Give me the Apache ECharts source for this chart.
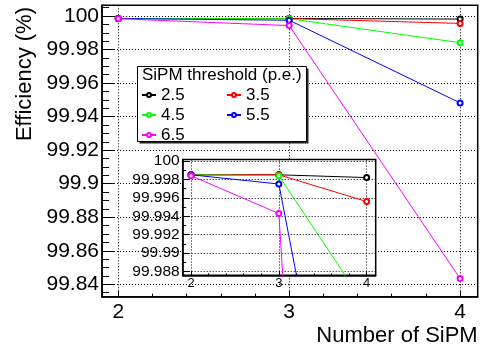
<!DOCTYPE html>
<html>
<head>
<meta charset="utf-8">
<script src="https://cdn.jsdelivr.net/npm/echarts@6/dist/echarts.min.js"></script>
<style>
html,body{margin:0;padding:0;background:#fff;}
#chart{width:485px;height:353px;}
</style>
</head>
<body>
<div id="chart"></div>
<script>
// ---------------- data ----------------
const xValues = [2, 3, 4];
const thresholdNames = ['2.5', '3.5', '4.5', '5.5', '6.5'];
const effTh25 = [99.9985, 99.9985, 99.9982];
const effTh35 = [99.9985, 99.9985, 99.9956];
const effTh45 = [99.9985, 99.9984, 99.9841];
const effTh55 = [99.9985, 99.9975, 99.9482];
const effTh65 = [99.9984, 99.9943, 99.8434];
const errTh25 = [0.00005, 0.00005, 0.0002];
const errTh35 = [0.00005, 0.00005, 0.00045];
const errTh45 = [0.00005, 0.00005, 0.0006];
const errTh55 = [0.00005, 0.0002, 0.0018];
const errTh65 = [0.00005, 0.00045, 0.0022];
const mainXTickLabels = ['2', '3', '4'];
const mainYTickLabels = ['99.84', '99.86', '99.88', '99.9', '99.92', '99.94', '99.96', '99.98', '100'];
const insetXTickLabels = ['2', '3', '4'];
const insetYTickLabels = ['99.988', '99.99', '99.992', '99.994', '99.996', '99.998', '100'];
const legendTitle = 'SiPM threshold (p.e.)';
const xTitle = 'Number of SiPM';
const yTitle = 'Efficiency (%)';

// ---------------- style / layout ----------------
const FONT = '"Liberation Sans", Arial, Helvetica, sans-serif';
const seriesColors = ['#000000', '#ff0000', '#00ff00', '#0000ff', '#ff00ff'];
const effAll = [effTh25, effTh35, effTh45, effTh55, effTh65];
const errAll = [errTh25, errTh35, errTh45, errTh55, errTh65];
const xRange = [1.905, 4.103];
const mainYRange = [99.8326, 100.0064];
const insetYRange = [99.9876, 100.00016];

function labelFrom(list) {
  return function (v) {
    const s = list.find(t => Math.abs(parseFloat(t) - v) < 1e-7);
    return s === undefined ? '' : s;
  };
}

const gridLine = { show: true, showMinLine: false, showMaxLine: false,
  lineStyle: { color: '#000', width: 1, type: [1, 2] } };

function majorAxis(o) {
  return {
    type: 'value', gridIndex: o.grid, position: o.pos, min: o.range[0], max: o.range[1],
    minInterval: o.step, maxInterval: o.step, z: o.z, scale: true,
    axisLine: { show: true, onZero: false, lineStyle: { color: '#000', width: 1.5 } },
    axisTick: { show: true, inside: true, length: o.tick, lineStyle: { color: '#000', width: 1 } },
    axisLabel: { show: true, margin: o.margin, color: '#000', fontFamily: FONT, fontSize: o.font,
      formatter: labelFrom(o.labels), showMinLabel: true, showMaxLabel: true },
    splitLine: gridLine,
    minorTick: { show: false }, minorSplitLine: { show: false }
  };
}
function minorAxis(o) {
  return {
    type: 'value', gridIndex: o.grid, position: o.pos, min: o.range[0], max: o.range[1],
    minInterval: o.step, maxInterval: o.step, z: o.z, scale: true,
    axisLine: { show: false, onZero: false },
    axisTick: { show: true, inside: true, length: o.tick, lineStyle: { color: '#000', width: 1 } },
    axisLabel: { show: false },
    splitLine: { show: false }
  };
}

const xAxes = [
  majorAxis({ grid: 0, pos: 'bottom', range: xRange, step: 1, tick: 6, margin: 5, font: 21, labels: mainXTickLabels, z: 0 }),
  minorAxis({ grid: 0, pos: 'bottom', range: xRange, step: 0.2, tick: 3, z: 0 }),
  majorAxis({ grid: 1, pos: 'bottom', range: xRange, step: 1, tick: 4, margin: 2, font: 13, labels: insetXTickLabels, z: 10 }),
  minorAxis({ grid: 1, pos: 'bottom', range: xRange, step: 0.2, tick: 2, z: 10 })
];
const yAxes = [
  majorAxis({ grid: 0, pos: 'left', range: mainYRange, step: 0.02, tick: 13, margin: 3, font: 21, labels: mainYTickLabels, z: 0 }),
  minorAxis({ grid: 0, pos: 'left', range: mainYRange, step: 0.005, tick: 7, z: 0 }),
  majorAxis({ grid: 1, pos: 'left', range: insetYRange, step: 0.002, tick: 7, margin: 3, font: 15.5, labels: insetYTickLabels, z: 10 }),
  minorAxis({ grid: 1, pos: 'left', range: insetYRange, step: 0.001, tick: 3.5, z: 10 })
];

const series = [];
[0, 2].forEach(function (axisIdx) {
  const inset = axisIdx === 2;
  thresholdNames.forEach(function (name, i) {
    series.push({
      name: name, type: 'line', xAxisIndex: axisIdx, yAxisIndex: axisIdx,
      data: xValues.map((x, k) => [x, effAll[i][k]]),
      symbol: 'emptyCircle', symbolSize: 5, showSymbol: true,
      lineStyle: { color: seriesColors[i], width: 1 },
      itemStyle: { color: seriesColors[i], borderColor: seriesColors[i], borderWidth: 1 },
      clip: true, z: inset ? 12 : 2, animation: false, silent: true
    });
  });
  thresholdNames.forEach(function (name, i) {
    series.push({
      name: 'err' + name, type: 'custom', xAxisIndex: axisIdx, yAxisIndex: axisIdx,
      data: xValues.map((x, k) => [x, effAll[i][k], errAll[i][k]]),
      encode: { x: 0, y: 1 }, clip: true, z: inset ? 12 : 2, silent: true, animation: false,
      renderItem: function (params, api) {
        const x = api.value(0), y = api.value(1), e = api.value(2);
        const p1 = api.coord([x, y - e]), p2 = api.coord([x, y + e]);
        return { type: 'line', shape: { x1: p1[0], y1: p1[1], x2: p2[0], y2: p2[1] },
          style: { stroke: seriesColors[i], lineWidth: 1 } };
      }
    });
  });
});

const legendBase = {
  orient: 'vertical', top: 85, padding: 0, itemGap: 0, itemWidth: 14, itemHeight: 5,
  selectedMode: false, z: 7,
  textStyle: { fontFamily: FONT, fontSize: 17, color: '#000', lineHeight: 20 }
};

const option = {
  animation: false,
  textStyle: { fontFamily: FONT },
  grid: [
    { left: 102, top: 5.3, width: 375.7, height: 291.4, show: true, backgroundColor: '#fff',
      borderColor: '#000', borderWidth: 1.5, containLabel: false, z: 0 },
    { left: 182.7, top: 159.5, width: 193, height: 115.8, show: true, backgroundColor: '#fff',
      borderColor: '#000', borderWidth: 1.5, containLabel: false, z: 10 }
  ],
  xAxis: xAxes,
  yAxis: yAxes,
  legend: [
    Object.assign({}, legendBase, { left: 141, data: [thresholdNames[0], thresholdNames[2], thresholdNames[4]] }),
    Object.assign({}, legendBase, { left: 226, data: [thresholdNames[1], thresholdNames[3]] })
  ],
  graphic: [
    { type: 'rect', z: 4, silent: true, shape: { x: 139.5, y: 68.5, width: 169, height: 75 }, style: { fill: '#222' } },
    { type: 'rect', z: 5, silent: true, shape: { x: 137.5, y: 66.5, width: 169, height: 75 }, style: { fill: '#fff', stroke: '#000', lineWidth: 1 } },
    { type: 'text', z: 7, silent: true, x: 142, y: 75, style: { text: legendTitle, font: '17px ' + FONT, fill: '#000', align: 'left', verticalAlign: 'middle' } },
    { type: 'text', z: 7, silent: true, x: 25, y: 7, rotation: Math.PI / 2, style: { text: yTitle, font: '22px ' + FONT, fill: '#000', align: 'right', verticalAlign: 'middle' } },
    { type: 'text', z: 7, silent: true, x: 477.7, y: 335.7, style: { text: xTitle, font: '22px ' + FONT, fill: '#000', align: 'right', verticalAlign: 'middle' } }
  ],
  series: series
};

const chart = echarts.init(document.getElementById('chart'), null, { renderer: 'canvas' });
chart.setOption(option);
</script>
</body>
</html>
